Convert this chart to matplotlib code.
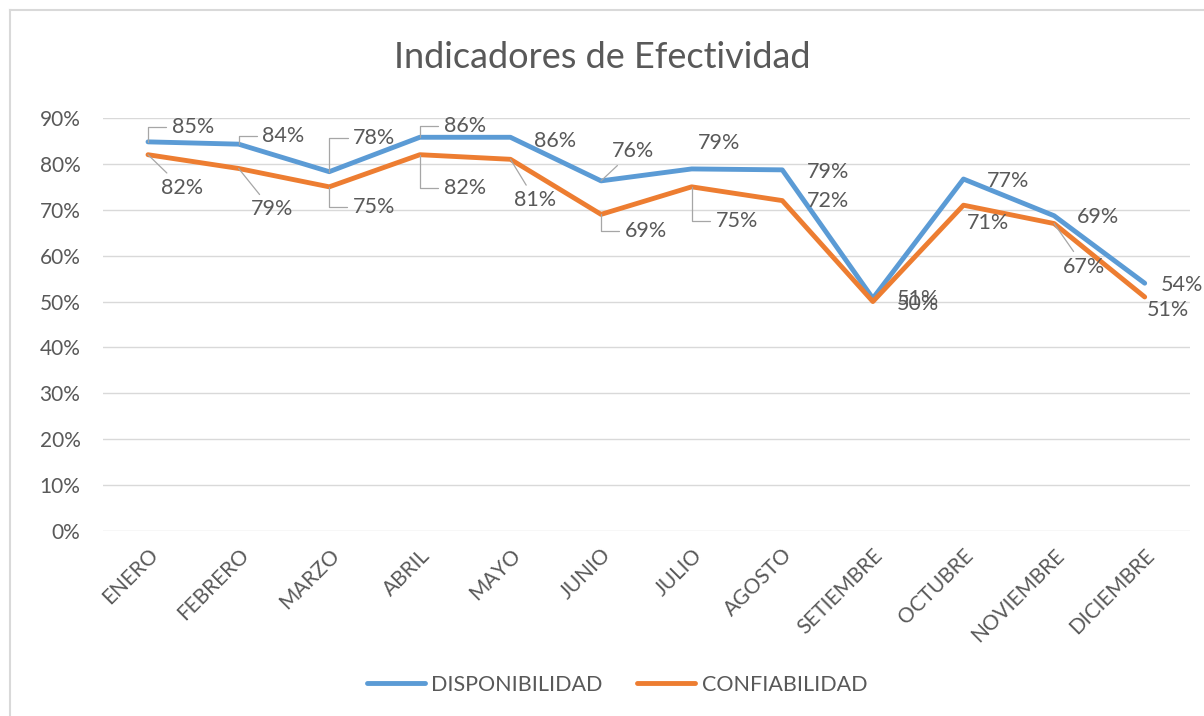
import matplotlib.pyplot as plt
from matplotlib.lines import Line2D

plt.rcParams['font.family'] = ['Lato', 'DejaVu Sans']

meses = ["ENERO", "FEBRERO", "MARZO", "ABRIL", "MAYO", "JUNIO", "JULIO",
         "AGOSTO", "SETIEMBRE", "OCTUBRE", "NOVIEMBRE", "DICIEMBRE"]
disponibilidad = [0.848, 0.843, 0.783, 0.858, 0.858, 0.763, 0.789, 0.787,
                  0.507, 0.767, 0.687, 0.54]
confiabilidad = [0.82, 0.79, 0.75, 0.82, 0.81, 0.69, 0.75, 0.72,
                 0.50, 0.71, 0.67, 0.51]
yticks = [0, 0.1, 0.2, 0.3, 0.4, 0.5, 0.6, 0.7, 0.8, 0.9]

# label offsets (pixels) and leader-line kind
off_disp = [(45, 15), (45, 8), (45, 34), (45, 11), (45, -4), (32, 30),
            (27, 26), (46, -2), (45, -1), (45, -2), (44, -1), (37, -2)]
lead_disp = ['elbow', 'elbow', 'elbow', 'elbow', None, 'straight',
             None, None, None, None, None, None]
off_conf = [(34, -33), (33, -41), (45, -20), (45, -33), (25, -41), (45, -17),
            (45, -34), (46, 0), (45, -2), (25, -18), (30, -43), (23, -13)]
lead_conf = ['straight', 'straight', 'elbow', 'elbow', 'straight', 'elbow',
             'elbow', None, None, None, 'straight', None]

azul = '#5B9BD5'
naranja = '#ED7D31'
gris = '#595959'

fig = plt.figure(figsize=(12.04, 7.16), dpi=100)
ax = fig.add_axes([102.7 / 1204, 1 - 531 / 716, (1190 - 102.7) / 1204, (531 - 118) / 716])

x = list(range(len(meses)))
ax.plot(x, disponibilidad, color=azul, lw=3.5, solid_capstyle='round', label='DISPONIBILIDAD', zorder=3)
ax.plot(x, confiabilidad, color=naranja, lw=3.5, solid_capstyle='round', label='CONFIABILIDAD', zorder=3)


def etiquetas(vals, offs, leads):
    for i, v in enumerate(vals):
        dx, dy = offs[i]
        arrow = None
        if leads[i] == 'elbow':
            arrow = dict(arrowstyle='-', color='#A6A6A6', lw=0.9, shrinkA=2, shrinkB=0,
                         relpos=(0, 0.5), connectionstyle='angle,angleA=180,angleB=90,rad=0')
        elif leads[i] == 'straight':
            arrow = dict(arrowstyle='-', color='#A6A6A6', lw=0.9, shrinkA=2, shrinkB=0)
        ax.annotate(f"{v:.0%}", (i, v), xytext=(dx, dy), textcoords='offset pixels',
                    ha='center', va='center', fontsize=15.5, color=gris,
                    arrowprops=arrow, zorder=4)


etiquetas(disponibilidad, off_disp, lead_disp)
etiquetas(confiabilidad, off_conf, lead_conf)

ax.set_xlim(-0.5, len(meses) - 0.5)
ax.set_ylim(0, 0.9)
ax.set_yticks(yticks)
ax.set_yticklabels([f"{t:.0%}" for t in yticks])
ax.set_xticks(x)
ax.set_xticklabels(meses, rotation=45, ha='right', rotation_mode='anchor')
ax.tick_params(axis='both', length=0, labelsize=15, labelcolor=gris)
ax.tick_params(axis='y', pad=16)
ax.tick_params(axis='x', pad=10)
ax.grid(axis='y', color='#D9D9D9', lw=1)
ax.set_axisbelow(True)
for s in ax.spines.values():
    s.set_visible(False)

fig.text(0.5, 1 - 57 / 716, "Indicadores de Efectividad", ha='center', va='center',
         fontsize=26, color=gris)

handles = [Line2D([], [], color=azul, lw=3.5, solid_capstyle='round'),
           Line2D([], [], color=naranja, lw=3.5, solid_capstyle='round')]
fig.legend(handles, ['DISPONIBILIDAD', 'CONFIABILIDAD'], loc='center',
           bbox_to_anchor=(617 / 1204, 1 - 685 / 716), ncol=2, frameon=False,
           fontsize=15.5, labelcolor=gris, handlelength=2.7, columnspacing=1.6, handletextpad=0.3)

# chart border
fig.add_artist(Line2D([10 / 1204, 1.0], [1 - 10 / 716] * 2, color='#D9D9D9', lw=1.5))
fig.add_artist(Line2D([10 / 1204] * 2, [0, 1 - 10 / 716], color='#D9D9D9', lw=1.5))

fig.savefig('out.png', dpi=100, facecolor='white')
